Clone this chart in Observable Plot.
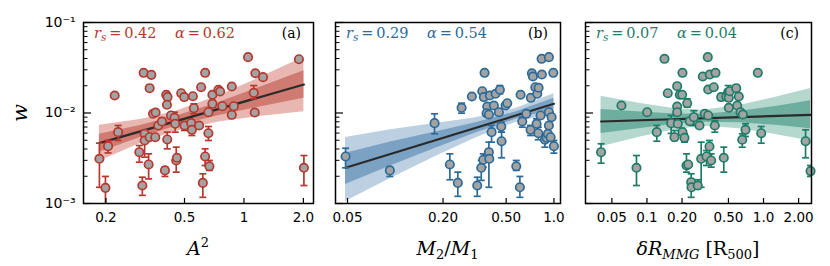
<!DOCTYPE html>
<html><head><meta charset="utf-8">
<script src="https://cdn.jsdelivr.net/npm/d3@7"></script>
<script src="https://cdn.jsdelivr.net/npm/@observablehq/plot@0.6"></script>
<style>
body{margin:0;background:#fff;}
#chart{position:relative;width:830px;height:266px;overflow:hidden;}
#chart svg{position:absolute;top:0;}
</style></head><body><div id="chart"></div>
<script>
// ---------- shared axis ticks ----------
const yMajor = [0.001, 0.01, 0.1];
const yMajorLabels = ["10\u207B\u00B3", "10\u207B\u00B2", "10\u207B\u00B9"];
const yMinor = [0.002,0.003,0.004,0.005,0.006,0.007,0.008,0.009,0.02,0.03,0.04,0.05,0.06,0.07,0.08,0.09];

// ---------- panel (a): A^2 ----------
const aX  = [0.1854,0.1989,0.2051,0.2215,0.2305,0.2953,0.3058,0.3105,0.3141,0.3141,0.3291,0.3329,0.3396,0.3329,0.3464,0.3570,0.3556,0.3683,0.3844,0.3981,0.4042,0.4103,0.4075,0.4089,0.4269,0.4452,0.4487,0.4540,0.4577,0.4811,0.4983,0.5000,0.5405,0.5450,0.5513,0.5578,0.5930,0.6070,0.6191,0.6359,0.6359,0.6608,0.6608,0.6684,0.6923,0.6923,0.7425,0.7574,0.7779,0.8677,0.8677,0.8882,1.049,1.121,1.134,1.142,1.249,1.898,2.012];
const aW  = [0.00312,0.00149,0.00430,0.0156,0.00614,0.00369,0.00158,0.0278,0.00589,0.00497,0.00270,0.00540,0.0264,0.0188,0.00980,0.01013,0.00540,0.00728,0.00806,0.00232,0.0159,0.0150,0.01232,0.00510,0.00939,0.00885,0.00760,0.00299,0.00320,0.01655,0.0150,0.00728,0.00772,0.00652,0.01533,0.01130,0.00728,0.01928,0.00169,0.0278,0.00331,0.01020,0.00598,0.00258,0.0159,0.01264,0.01805,0.01728,0.01189,0.01963,0.00955,0.01189,0.0414,0.01672,0.01013,0.0275,0.0249,0.0393,0.00248];
const aLo = [0.00151,0.00095,0.00362,null,0.00497,0.00286,0.00123,null,0.00532,0.00325,0.00187,0.0051,null,0.0175,null,null,0.0051,null,0.0074,0.00199,null,null,null,0.00402,null,0.00791,0.00614,0.00222,null,null,0.0141,0.00641,null,0.00564,0.0145,0.0098,null,null,0.00117,null,0.00263,null,0.00497,0.00232,null,0.01159,null,null,null,null,0.0090,null,null,0.01435,0.0095,null,null,null,0.00158];
const aHi = [0.00464,0.00199,0.00497,null,0.00728,0.00437,0.00195,null,0.00641,0.00589,0.00354,0.0057,null,0.0201,null,null,0.0057,null,0.0088,0.00252,null,null,null,0.00614,null,0.0102,0.00899,0.00419,null,null,0.0159,0.00791,null,0.0076,0.0162,0.01264,null,null,0.00213,null,0.00402,null,0.00709,0.00299,null,0.01374,null,null,null,null,0.0101,null,null,0.0201,0.0107,null,null,null,0.00339];
const aFitX = [0.1854, 2.012];
const aFitW = [0.00464, 0.02065];
const aBandX    = [0.1854,0.2987,0.4487,0.7574,1.206,2.012];
const aOuterLo  = [0.00293,0.00459,0.00626,0.00798,0.00912,0.01034];
const aOuterHi  = [0.00733,0.00850,0.01041,0.01569,0.02461,0.04125];
const aInnerLo  = [0.00369,0.00536,0.00711,0.00943,0.01168,0.01453];
const aInnerHi  = [0.00583,0.00728,0.00917,0.01327,0.01923,0.02934];
const aTicks = [0.2, 0.5, 1, 2];
const aTickLabels = ["0.2", "0.5", "1", "2.0"];

// ---------- panel (b): M2/M1 ----------
const bX  = [0.0486,0.0924,0.1768,0.2208,0.2479,0.2618,0.3039,0.3286,0.3483,0.3534,0.3617,0.3586,0.3654,0.3800,0.3762,0.3891,0.3891,0.3914,0.3947,0.4046,0.4183,0.4288,0.4498,0.4564,0.4657,0.4677,0.4956,0.5080,0.5789,0.6100,0.6162,0.6316,0.6694,0.7123,0.7155,0.7261,0.7369,0.7631,0.7776,0.7855,0.7970,0.8005,0.8240,0.8360,0.8397,0.8770,0.8990,0.9161,0.9294,0.9294,0.9294,0.9528,0.9667,0.9908,0.9995];
const bW  = [0.00331,0.00232,0.00772,0.00270,0.00169,0.01142,0.01522,0.00158,0.00248,0.01741,0.0150,0.00304,0.0278,0.0118,0.00995,0.00963,0.00369,0.00312,0.0156,0.00614,0.0121,0.0163,0.0102,0.01805,0.00709,0.00488,0.0121,0.01283,0.00258,0.00151,0.0159,0.00806,0.0098,0.00652,0.01472,0.0275,0.0253,0.01928,0.0076,0.0163,0.00598,0.0190,0.00939,0.0397,0.0266,0.00506,0.00532,0.00589,0.00728,0.0414,0.0102,0.0054,0.00899,0.0278,0.0043];
const bLo = [0.00248,0.00199,0.00589,0.00183,0.00120,0.00995,null,0.00120,0.00180,null,null,0.00252,null,null,null,null,0.00151,null,null,0.00476,null,null,null,0.0163,0.00614,0.0032,null,null,0.00232,0.00117,null,0.00697,null,0.00564,null,null,null,null,0.00614,null,0.00506,null,null,null,null,0.00419,null,null,null,null,null,null,null,null,0.0036];
const bHi = [0.00408,0.00252,0.0098,0.00354,0.00222,0.01283,null,0.00195,0.00299,null,null,0.00354,null,null,null,null,0.00476,null,null,0.00728,null,null,null,0.0201,0.00791,0.00614,null,null,0.00299,0.00199,null,0.00899,null,0.00728,null,null,null,null,0.00863,null,0.00697,null,null,null,null,0.00564,null,null,null,null,null,null,null,null,0.00497];
const bFitX = [0.0486, 0.9995];
const bFitW = [0.00248, 0.01264];
const bBandX   = [0.0486,0.0933,0.1794,0.3207,0.5731,0.9995];
const bOuterLo = [0.00105,0.00189,0.00330,0.00528,0.00783,0.0098];
const bOuterHi = [0.00536,0.00655,0.00764,0.00887,0.01118,0.0163];
const bInnerLo = [0.00162,0.00260,0.00407,0.00601,0.00854,0.01096];
const bInnerHi = [0.00360,0.00478,0.00618,0.00779,0.01026,0.01457];
const bTicks = [0.05, 0.2, 0.5, 1];
const bTickLabels = ["0.05", "0.20", "0.50", "1.0"];

// ---------- panel (c): delta R_MMG ----------
const cX  = [0.0404,0.0604,0.0813,0.1004,0.1214,0.1413,0.1509,0.1613,0.1722,0.1816,0.1816,0.1816,0.1838,0.1912,0.2004,0.2017,0.2017,0.2098,0.2214,0.2183,0.2258,0.2331,0.2396,0.2410,0.2522,0.2729,0.2822,0.2918,0.3013,0.3133,0.3241,0.3325,0.3352,0.3352,0.3439,0.3460,0.3557,0.3745,0.3819,0.3873,0.4334,0.4562,0.4783,0.4977,0.5036,0.5036,0.5136,0.5830,0.5945,0.6138,0.6348,0.6643,0.6566,0.7006,0.8935,0.9557,2.294,2.532];
const cW  = [0.00369,0.0121,0.00248,0.0102,0.00614,0.0397,0.01655,0.00772,0.0054,0.01978,0.0118,0.0102,0.0076,0.0159,0.0159,0.0278,0.00614,0.00532,0.01283,0.00263,0.0027,0.00812,0.00172,0.00151,0.00899,0.00158,0.00728,0.00312,0.0253,0.0098,0.00331,0.0414,0.01819,0.00939,0.00427,0.0266,0.00299,0.01928,0.00728,0.0278,0.0150,0.0032,0.01522,0.01698,0.01472,0.01142,0.01741,0.0188,0.0121,0.01522,0.0102,0.00963,0.00506,0.00652,0.0278,0.00598,0.00488,0.00228];
const cLo = [0.00279,null,0.00158,null,0.00488,null,null,0.00594,0.00497,null,null,null,null,null,null,null,null,0.00476,0.01159,0.00222,null,null,0.00117,null,0.00728,0.00146,null,0.00151,null,null,0.00263,null,null,null,0.00354,null,0.00252,null,0.00614,null,0.0138,0.00222,null,0.01435,null,null,null,0.0175,null,null,null,null,0.00419,0.0055,null,0.00464,0.0032,0.00199];
const cHi = [0.00457,null,0.00339,null,0.00728,null,null,0.00939,0.00641,null,null,null,null,null,null,null,null,0.00589,0.01435,0.00354,null,null,0.00213,null,0.0106,0.00183,null,0.00476,null,null,0.00385,null,null,null,0.00497,null,0.00354,null,0.00827,null,0.0163,0.00419,null,0.0201,null,null,null,0.0201,null,null,null,null,0.00589,0.0076,null,0.00709,0.00652,0.00263];
const cFitX = [0.0404, 2.532];
const cFitW = [0.00806, 0.00955];
const cBandX   = [0.0404,0.0880,0.1756,0.3055,0.6348,1.268,2.532];
const cOuterLo = [0.00424,0.00543,0.00659,0.00715,0.00669,0.00579,0.0049];
const cOuterHi = [0.01529,0.01277,0.01113,0.01074,0.0122,0.01491,0.0186];
const cInnerLo = [0.00594,0.00676,0.00754,0.00791,0.00779,0.0073,0.00669];
const cInnerHi = [0.01093,0.01026,0.00972,0.0097,0.01047,0.01183,0.01364];
const cTicks = [0.05, 0.1, 0.2, 0.5, 1, 2];
const cTickLabels = ["0.05", "0.1", "0.20", "0.50", "1.0", "2.00"];

// ---------- annotations ----------
const panelTags = ["(a)", "(b)", "(c)"];
const rsValues = ["0.42", "0.29", "0.07"];
const alphaValues = ["0.62", "0.54", "0.04"];

// ---------- drawing ----------
const capSymbol = {draw(ctx, size) { const r = Math.sqrt(size / Math.PI); ctx.moveTo(-r, 0); ctx.lineTo(r, 0); }};

function panel(o) {
  const pts = o.x.map((x, i) => ({x, w: o.w[i], lo: o.lo[i], hi: o.hi[i]}));
  const bars = pts.filter(d => d.lo != null && d.hi != null);
  const band = o.bandX.map((x, i) => ({x, ol: o.outerLo[i], oh: o.outerHi[i], il: o.innerLo[i], ih: o.innerHi[i]}));
  const fit = o.fitX.map((x, i) => ({x, w: o.fitW[i]}));
  const tickLabel = new Map(o.ticks.map((t, i) => [t, o.tickLabels[i]]));
  const yLab = new Map(yMajor.map((t, i) => [t, yMajorLabels[i]]));
  const marks = [
    Plot.areaY(band, {x: "x", y1: "ol", y2: "oh", fill: o.light, clip: true}),
    Plot.areaY(band, {x: "x", y1: "il", y2: "ih", fill: o.dark, clip: true}),
    Plot.line(fit, {x: "x", y: "w", stroke: "#2a2a2a", strokeWidth: 2.2, clip: true}),
    Plot.ruleX(bars, {x: "x", y1: "lo", y2: "hi", stroke: o.color, strokeWidth: 1.7, clip: true}),
    Plot.dot(bars, {x: "x", y: "lo", symbol: capSymbol, r: 3.5, fill: "none", stroke: o.color, strokeWidth: 1.7, clip: true}),
    Plot.dot(bars, {x: "x", y: "hi", symbol: capSymbol, r: 3.5, fill: "none", stroke: o.color, strokeWidth: 1.7, clip: true}),
    Plot.dot(pts, {x: "x", y: "w", r: 4.2, fill: "#a3a3a3", stroke: o.color, strokeWidth: 1.7}),
    Plot.axisY({ticks: yMajor, tickSize: 8, dx: 8, fill: "none", label: null, strokeWidth: 1.2}),
    Plot.axisY({ticks: yMinor, tickSize: 4.5, dx: 4.5, fill: "none", label: null, strokeWidth: 1}),
    Plot.axisX({ticks: o.ticks, tickSize: 5, dy: -5, fill: "none", label: null, strokeWidth: 1.2}),
    Plot.axisX({ticks: o.ticks, tickSize: 0, tickPadding: 9, tickFormat: d => tickLabel.get(d), label: null}),
    Plot.frame({stroke: "#000", strokeWidth: 1.5})
  ];
  if (o.yLabels) marks.push(Plot.axisY({ticks: yMajor, tickSize: 0, tickPadding: 8, tickFormat: d => yLab.get(d), label: null, fontSize: 14}));
  const svg = Plot.plot({
    width: o.width, height: 266,
    marginLeft: o.ml, marginRight: o.mr, marginTop: 22, marginBottom: 63,
    x: {type: "log", domain: o.xDomain},
    y: {type: "log", domain: [0.001, 0.1]},
    style: {fontFamily: "DejaVu Sans", fontSize: "13.5px", color: "#000", background: "transparent", overflow: "visible"},
    marks
  });
  svg.style.left = o.left + "px";
  const s = d3.select(svg);
  // statistics annotation
  const t = s.append("text").attr("x", o.ml + 11).attr("y", 38).attr("text-anchor", "start")
    .attr("font-family", "DejaVu Serif").attr("font-size", 14.5).attr("fill", o.color);
  t.append("tspan").attr("font-style", "italic").text("r");
  t.append("tspan").attr("font-style", "italic").attr("font-size", 10.5).attr("dy", 3).text("s");
  t.append("tspan").attr("dy", -3).text("\u2009=\u2009" + o.rs);
  const t2 = s.append("text").attr("x", o.ml + 92).attr("y", 38).attr("text-anchor", "start")
    .attr("font-family", "DejaVu Serif").attr("font-size", 14.5).attr("fill", o.color);
  t2.append("tspan").attr("font-style", "italic").text("\u03B1");
  t2.append("tspan").text("\u2009=\u2009" + o.alpha);
  s.append("text").attr("x", o.width - o.mr - 12).attr("y", 38).attr("text-anchor", "end")
    .attr("font-family", "DejaVu Serif").attr("font-size", 14).attr("fill", "#000").text(o.tag);
  // x label
  const cx = o.ml + (o.width - o.ml - o.mr) / 2;
  const xl = s.append("text").attr("x", cx).attr("y", 255).attr("text-anchor", "middle")
    .attr("font-family", "DejaVu Serif").attr("font-size", 19).attr("fill", "#000");
  o.xlabel(xl);
  return svg;
}

const chart = document.getElementById("chart");
chart.append(panel({
  left: 0, width: 320, ml: 83, mr: 7, xDomain: [0.154, 2.25],
  x: aX, w: aW, lo: aLo, hi: aHi, fitX: aFitX, fitW: aFitW,
  bandX: aBandX, outerLo: aOuterLo, outerHi: aOuterHi, innerLo: aInnerLo, innerHi: aInnerHi,
  ticks: aTicks, tickLabels: aTickLabels, yLabels: true,
  color: "#b5382e", light: "#e9b7b1", dark: "#cf7b72",
  rs: rsValues[0], alpha: alphaValues[0], tag: panelTags[0],
  xlabel: el => { el.append("tspan").attr("font-style", "italic").text("A"); el.append("tspan").attr("font-size", 13).attr("dy", -8).text("2"); }
}));
chart.append(panel({
  left: 320, width: 250, ml: 15, mr: 10, xDomain: [0.042, 1.10],
  x: bX, w: bW, lo: bLo, hi: bHi, fitX: bFitX, fitW: bFitW,
  bandX: bBandX, outerLo: bOuterLo, outerHi: bOuterHi, innerLo: bInnerLo, innerHi: bInnerHi,
  ticks: bTicks, tickLabels: bTickLabels, yLabels: false,
  color: "#2c6a98", light: "#bcd0e1", dark: "#7ca2c3",
  rs: rsValues[1], alpha: alphaValues[1], tag: panelTags[1],
  xlabel: el => {
    el.append("tspan").attr("font-style", "italic").text("M");
    el.append("tspan").attr("font-size", 13).attr("dy", 4).text("2");
    el.append("tspan").attr("dy", -4).text("/");
    el.append("tspan").attr("font-style", "italic").text("M");
    el.append("tspan").attr("font-size", 13).attr("dy", 4).text("1");
  }
}));
chart.append(panel({
  left: 570, width: 260, ml: 15, mr: 19, xDomain: [0.0297, 2.58],
  x: cX, w: cW, lo: cLo, hi: cHi, fitX: cFitX, fitW: cFitW,
  bandX: cBandX, outerLo: cOuterLo, outerHi: cOuterHi, innerLo: cInnerLo, innerHi: cInnerHi,
  ticks: cTicks, tickLabels: cTickLabels, yLabels: false,
  color: "#1d7c68", light: "#b4d7ce", dark: "#6dae9f",
  rs: rsValues[2], alpha: alphaValues[2], tag: panelTags[2],
  xlabel: el => {
    el.append("tspan").attr("font-style", "italic").text("\u03B4R");
    el.append("tspan").attr("font-style", "italic").attr("font-size", 13).attr("dy", 4).text("MMG");
    el.append("tspan").attr("dy", -4).text(" [R");
    el.append("tspan").attr("font-size", 13).attr("dy", 4).text("500");
    el.append("tspan").attr("dy", -4).text("]");
  }
}));
// y label on the first panel
d3.select(chart.querySelector("svg")).append("text")
  .attr("transform", "translate(27,113) rotate(-90)").attr("text-anchor", "middle")
  .attr("font-family", "DejaVu Serif").attr("font-style", "italic").attr("font-size", 21).attr("fill", "#000").text("w");
</script></body></html>
